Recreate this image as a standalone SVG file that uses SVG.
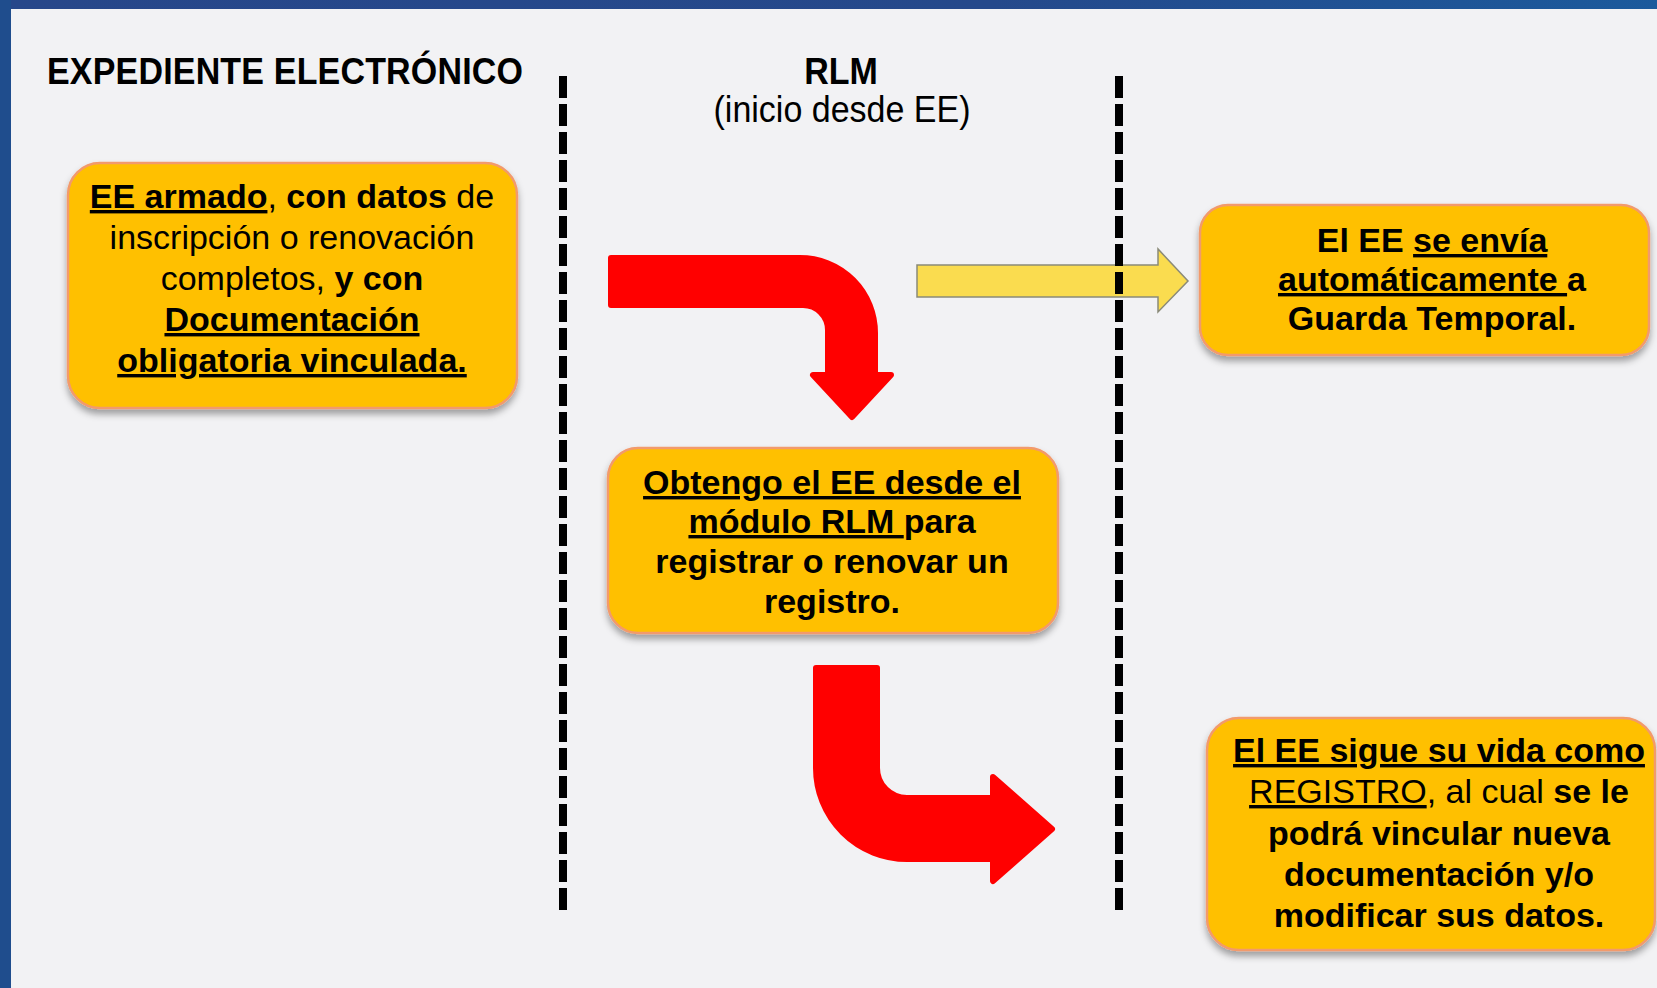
<svg xmlns="http://www.w3.org/2000/svg" width="1657" height="988" viewBox="0 0 1657 988">
  <defs>
    <linearGradient id="topbar" x1="0" y1="0" x2="1" y2="0">
      <stop offset="0" stop-color="#27478a"/>
      <stop offset="0.6" stop-color="#25498b"/>
      <stop offset="1" stop-color="#1b5a9c"/>
    </linearGradient>
    <filter id="shadow" x="-10%" y="-10%" width="120%" height="130%">
      <feDropShadow dx="0" dy="5" stdDeviation="3.5" flood-color="#000" flood-opacity="0.35"/>
    </filter>
    <style>
      .box { fill: #ffc000; stroke: #f29a6c; stroke-width: 2.5; filter: url(#shadow); }
      .t { font-family: "Liberation Sans", Arial, sans-serif; font-size: 34px; fill: #000; text-anchor: middle; }
      .h { font-family: "Liberation Sans", Arial, sans-serif; font-size: 34px; fill: #000; }
      .b { font-weight: bold; }
      .r { font-weight: normal; }
      .u { text-decoration: underline; }
      .red { fill: #ff0000; stroke: #ff0000; stroke-width: 6; stroke-linejoin: round; }
      .yel { fill: #fadc4f; stroke: #8a8a78; stroke-width: 1.5; }
      .sep { stroke: #000; stroke-width: 8; stroke-dasharray: 22 6; fill: none; }
    </style>
  </defs>

  <!-- background and frame -->
  <rect x="0" y="0" width="1657" height="988" fill="#f2f2f4"/>
  <rect x="0" y="0" width="1657" height="9" fill="url(#topbar)"/>
  <rect x="0" y="0" width="11" height="988" fill="#1f4d8d"/>

  <!-- headers -->
  <g id="header-ee">
    <text class="h b" transform="translate(47,84) scale(1,1.08)" textLength="476">EXPEDIENTE ELECTRÓNICO</text>
  </g>
  <g id="header-rlm">
    <text class="h b" text-anchor="middle" transform="translate(841,84) scale(1,1.08)">RLM</text>
    <text class="h" text-anchor="middle" transform="translate(842,122) scale(1,1.08)">(inicio desde EE)</text>
  </g>

  <!-- connectors -->
  <g id="connectors">
    <path id="arrow-yellow" class="yel" d="M917,265 H1158 V249 L1188,281 L1158,312 V297 H917 Z"/>
    <path id="arrow-red-1" class="red" d="M611,258 H800 A75,75 0 0 1 875,333 V375 H891 L852,417 L813,375 H828 V330 A25,25 0 0 0 803,305 H611 Z"/>
    <path id="arrow-red-2" class="red" d="M816,668 H877 V768 A30,30 0 0 0 907,798 H993 V777 L1052,829 L993,881 V859 H907 A91,91 0 0 1 816,768 Z"/>
  </g>

  <!-- lane separators -->
  <g id="separators">
    <line class="sep" x1="563" y1="76" x2="563" y2="910"/>
    <line class="sep" x1="1119" y1="76" x2="1119" y2="910"/>
  </g>

  <!-- nodes -->
  <g id="node-ee-armado">
    <rect class="box" x="68" y="163" width="449" height="245" rx="32" ry="32"/>
    <text class="t"><tspan x="292" y="208"><tspan class="b u">EE armado</tspan>, <tspan class="b">con datos</tspan> de</tspan><tspan x="292" y="249">inscripción o renovación</tspan><tspan x="292" y="290">completos, <tspan class="b">y con</tspan></tspan><tspan x="292" y="331" class="b u">Documentación</tspan><tspan x="292" y="372" class="b u">obligatoria vinculada.</tspan></text>
  </g>

  <g id="node-obtengo">
    <rect class="box" x="608" y="448" width="450" height="185" rx="30" ry="30"/>
    <text class="t b"><tspan x="832" y="494" class="u">Obtengo el EE desde el</tspan><tspan x="832" y="533"><tspan class="u">módulo RLM </tspan>para</tspan><tspan x="832" y="573">registrar o renovar un</tspan><tspan x="832" y="613">registro.</tspan></text>
  </g>

  <g id="node-guarda-temporal">
    <rect class="box" x="1200" y="205" width="449" height="150" rx="28" ry="28"/>
    <text class="t b"><tspan x="1432" y="252">El EE <tspan class="u">se envía</tspan></tspan><tspan x="1432" y="291"><tspan class="u">automáticamente </tspan>a</tspan><tspan x="1432" y="330">Guarda Temporal.</tspan></text>
  </g>

  <g id="node-registro">
    <rect class="box" x="1207" y="718" width="448" height="232" rx="32" ry="32"/>
    <text class="t b"><tspan x="1439" y="762" class="u">El EE sigue su vida como</tspan><tspan x="1439" y="803"><tspan class="r u">REGISTRO</tspan><tspan class="r">, al cual </tspan>se le</tspan><tspan x="1439" y="845">podrá vincular nueva</tspan><tspan x="1439" y="886">documentación y/o</tspan><tspan x="1439" y="927">modificar sus datos.</tspan></text>
  </g>
</svg>
